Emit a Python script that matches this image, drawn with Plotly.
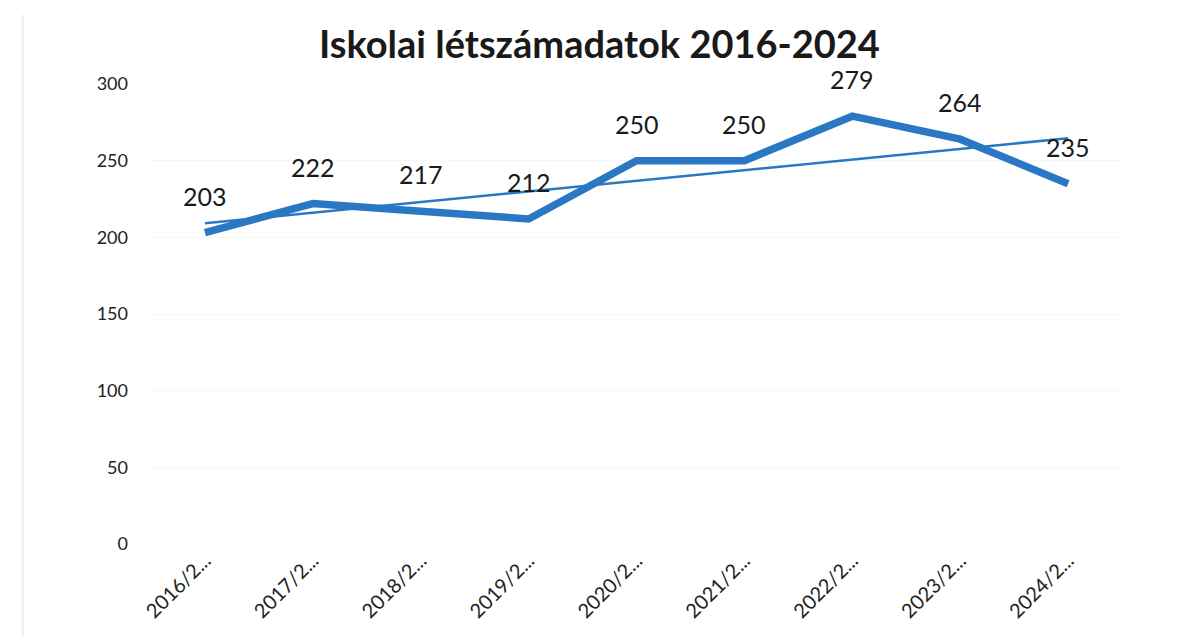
import numpy as np
import plotly.graph_objects as go

categories = ["2016/2...", "2017/2...", "2018/2...", "2019/2...", "2020/2...",
              "2021/2...", "2022/2...", "2023/2...", "2024/2..."]
values = [203, 222, 217, 212, 250, 250, 279, 264, 235]
y_ticks = [0, 50, 100, 150, 200, 250, 300]
title_text = "Iskolai létszámadatok 2016-2024"

idx = np.arange(len(values))
slope, intercept = np.polyfit(idx, values, 1)
trend = list(slope * idx + intercept)

blue = "#2A78C4"
font_family = "Lato, 'Open Sans', sans-serif"

fig = go.Figure()
fig.add_trace(go.Scatter(
    x=categories, y=values, mode="lines",
    line=dict(color=blue, width=7.5), showlegend=False, hoverinfo="skip",
))
fig.add_trace(go.Scatter(
    x=categories, y=trend, mode="lines",
    line=dict(color=blue, width=2.5), showlegend=False, hoverinfo="skip",
))

for c, v in zip(categories, values):
    fig.add_annotation(x=c, y=v, text=str(v), showarrow=False,
                       yshift=37, yanchor="middle",
                       font=dict(size=25, color="#1a1a1a", family=font_family))

fig.add_shape(type="line", xref="paper", yref="paper",
              x0=-0.132, x1=-0.132, y0=-0.2, y1=1.15,
              line=dict(color="#ececec", width=2))

fig.update_layout(
    width=1190, height=643,
    margin=dict(l=143, r=76, t=76, b=107),
    paper_bgcolor="white", plot_bgcolor="white",
    title=dict(text=title_text, x=0.497, xanchor="center", y=0.943, yanchor="middle",
               font=dict(size=38, color="#1a1a1a", family=font_family, weight="bold")),
    xaxis=dict(type="category", range=[-0.5, len(categories) - 0.5],
               tickangle=-45, showgrid=False, showline=False, zeroline=False,
               tickfont=dict(size=20, color="#222", family=font_family),
               ticks="", automargin=False),
    yaxis=dict(range=[0, 300], tickvals=y_ticks, showgrid=True,
               gridcolor="#f7f7f7", gridwidth=1, zeroline=False, showline=False,
               tickfont=dict(size=18, color="#222", family=font_family),
               ticks="", ticklabelstandoff=22, automargin=False),
)

fig.write_html("out.html")
